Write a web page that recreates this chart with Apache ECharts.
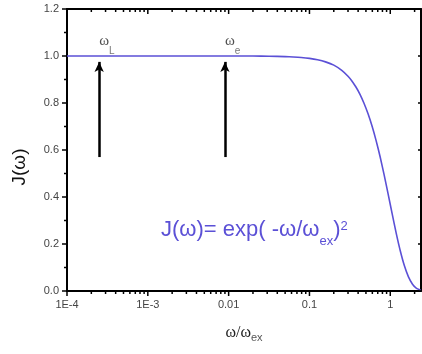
<!DOCTYPE html>
<html>
<head>
<meta charset="utf-8">
<script src="https://cdn.jsdelivr.net/npm/echarts@6/dist/echarts.min.js"></script>
<style>
  html, body { margin: 0; padding: 0; background: #fff; }
  #chart { width: 422px; height: 354px; }
</style>
</head>
<body>
<div id="chart"></div>
<script>
// Reduced frequency omega/omega_ex and the spectral density J(omega)
const omega = [1e-4, 1e-3, 0.01, 0.02, 0.0316, 0.05, 0.063, 0.079, 0.1, 0.126, 0.158, 0.2, 0.251, 0.3, 0.335, 0.376, 0.422, 0.473, 0.531, 0.596, 0.668, 0.75, 0.841, 0.944, 1.059, 1.189, 1.334, 1.496, 1.679, 1.884, 2.113, 2.371, 2.4];
const spectralDensity = [1.0, 1.0, 1.0, 1.0, 0.999, 0.9975, 0.996, 0.9938, 0.99, 0.984, 0.975, 0.961, 0.939, 0.914, 0.894, 0.868, 0.837, 0.799, 0.754, 0.701, 0.64, 0.57, 0.493, 0.41, 0.326, 0.243, 0.169, 0.107, 0.06, 0.029, 0.0115, 0.0036, 0.003];

// Characteristic frequencies marked with arrows
const markerOmega = [2.5e-4, 0.009];
const markerSub = ['L', 'e'];
const arrowFrom = 0.57;
const arrowTo = 0.975;

// Axis ranges and tick labels
const xTickValues = [1e-4, 1e-3, 0.01, 0.1, 1];
const xTickLabels = ['1E-4', '1E-3', '0.01', '0.1', '1'];
const xMin = 1e-4, xMax = 2.4;
const yMin = 0, yMax = 1.2, yStep = 0.2;

// x ticks: decades (major) and 2..9 within each decade (minor)
const xTicks = xTickValues.map(v => [v, 1]);
for (let d = -4; d <= 0; d++) {
  for (let k = 2; k <= 9; k++) {
    const v = k * Math.pow(10, d);
    if (v <= xMax) xTicks.push([v, 0]);
  }
}
// y ticks: every 0.2 (major) and halfway between (minor)
const yTicks = [];
for (let i = 0; i <= 12; i++) yTicks.push([xMin, +(i * 0.1).toFixed(1), i % 2 === 0 ? 1 : 0]);

const curveColor = '#5b50d6';
const axisColor = '#000';
const labelColor = '#444';
const sans = '"Liberation Sans", Arial, sans-serif';
const serif = '"Liberation Serif", "Times New Roman", serif';

// tick marks drawn as thin filled bars
function vTick(x, y, len) {
  return { type: 'rect', shape: { x: x - 0.75, y: y, width: 1.5, height: len }, style: { fill: axisColor } };
}
function hTick(x, y, len) {
  return { type: 'rect', shape: { x: x - len, y: y - 0.75, width: len, height: 1.5 }, style: { fill: axisColor } };
}

const chart = echarts.init(document.getElementById('chart'));

chart.setOption({
  animation: false,
  backgroundColor: '#fff',
  grid: { left: 67, right: 1, top: 9, bottom: 63, containLabel: false, outerBoundsMode: 'none' },
  xAxis: [
    {
      type: 'log', logBase: 10, min: xMin, max: xMax, position: 'bottom',
      splitLine: { show: false },
      axisLine: { show: true, onZero: false, lineStyle: { color: axisColor, width: 2 } },
      axisTick: { show: false },
      axisLabel: {
        show: true, customValues: xTickValues, margin: 8, color: labelColor, fontSize: 11, fontFamily: sans,
        formatter: v => {
          const i = xTickValues.findIndex(t => Math.abs(Math.log10(t) - Math.log10(v)) < 1e-6);
          return i >= 0 ? xTickLabels[i] : '';
        }
      },
      name: '{w|ω/ω}{s|ex}',
      nameLocation: 'middle',
      nameGap: 34,
      nameTextStyle: {
        rich: {
          w: { fontSize: 16, fontFamily: serif, color: '#222', lineHeight: 12, verticalAlign: 'top' },
          s: { fontSize: 11, fontFamily: sans, color: '#555', lineHeight: 18, verticalAlign: 'bottom' }
        }
      }
    },
    {
      type: 'log', logBase: 10, min: xMin, max: xMax, position: 'top',
      splitLine: { show: false },
      axisLine: { show: true, onZero: false, lineStyle: { color: axisColor, width: 2 } },
      axisTick: { show: false },
      axisLabel: { show: false }
    }
  ],
  yAxis: [
    {
      type: 'value', position: 'left', min: yMin, max: yMax, interval: yStep,
      splitLine: { show: false },
      axisLine: { show: true, onZero: false, lineStyle: { color: axisColor, width: 2 } },
      axisTick: { show: false },
      axisLabel: { margin: 8, color: labelColor, fontSize: 11, fontFamily: sans, formatter: v => v.toFixed(1) },
      name: 'J(ω)',
      nameLocation: 'middle',
      nameGap: 38,
      nameTextStyle: { fontSize: 19, fontFamily: sans, color: '#111', padding: [0, 34, 0, 0] }
    },
    {
      type: 'value', position: 'right', min: yMin, max: yMax, interval: yStep,
      splitLine: { show: false },
      axisLine: { show: true, onZero: false, lineStyle: { color: axisColor, width: 2 } },
      axisTick: { show: false },
      axisLabel: { show: false }
    }
  ],
  series: [
    {
      type: 'line',
      data: omega.map((w, i) => [w, spectralDensity[i]]),
      smooth: 0.2,
      showSymbol: false,
      lineStyle: { color: curveColor, width: 1.6 }
    },
    {
      // log ticks on the bottom frame (outward) and top frame (inward)
      type: 'custom', clip: false, silent: true, z: 10,
      data: xTicks,
      renderItem: (params, api) => {
        const v = api.value(0);
        const len = api.value(1) === 1 ? 5 : 3;
        const pb = api.coord([v, yMin]);
        const pt = api.coord([v, yMax]);
        return { type: 'group', children: [vTick(pb[0], pb[1], len), vTick(pt[0], pt[1], len)] };
      }
    },
    {
      // ticks on the left frame (outward) and right frame (inward, major only)
      type: 'custom', clip: false, silent: true, z: 10,
      data: yTicks,
      renderItem: (params, api) => {
        const v = api.value(1);
        const major = api.value(2) === 1;
        const pl = api.coord([xMin, v]);
        const pr = api.coord([xMax, v]);
        const children = [hTick(pl[0], pl[1], major ? 5 : 3)];
        if (major) children.push(hTick(pr[0], pr[1], 3));
        return { type: 'group', children };
      }
    },
    {
      type: 'scatter',
      symbolSize: 0,
      silent: true,
      data: markerOmega.map((w, i) => ({ value: [w, 1.0], sub: markerSub[i] })),
      label: {
        show: true,
        position: 'top',
        align: 'left',
        distance: 0,
        formatter: p => '{w|ω}{s|' + p.data.sub + '}',
        rich: {
          w: { fontSize: 15, fontFamily: serif, color: '#222', lineHeight: 8, verticalAlign: 'top' },
          s: { fontSize: 10, fontFamily: sans, color: '#555', lineHeight: 22, verticalAlign: 'bottom' }
        }
      },
      markLine: {
        silent: true,
        symbol: ['none', 'arrow'],
        symbolSize: [7, 10],
        label: { show: false },
        lineStyle: { color: '#000', width: 2.5, type: 'solid' },
        data: markerOmega.map(w => [{ coord: [w, arrowFrom] }, { coord: [w, arrowTo] }])
      }
    }
  ],
  graphic: [
    {
      type: 'text',
      left: 161,
      top: 212,
      silent: true,
      style: {
        text: '{m|J(ω)= exp( -ω/ω}{s|ex}{m|)}{p|2}',
        rich: {
          m: { fontSize: 22, fontFamily: sans, fill: curveColor, lineHeight: 36, verticalAlign: 'middle' },
          s: { fontSize: 13, fontFamily: sans, fill: curveColor, lineHeight: 13, verticalAlign: 'bottom' },
          p: { fontSize: 13, fontFamily: sans, fill: curveColor, lineHeight: 29, verticalAlign: 'top', padding: [8, 0, 0, 0] }
        }
      }
    }
  ]
});
</script>
</body>
</html>
